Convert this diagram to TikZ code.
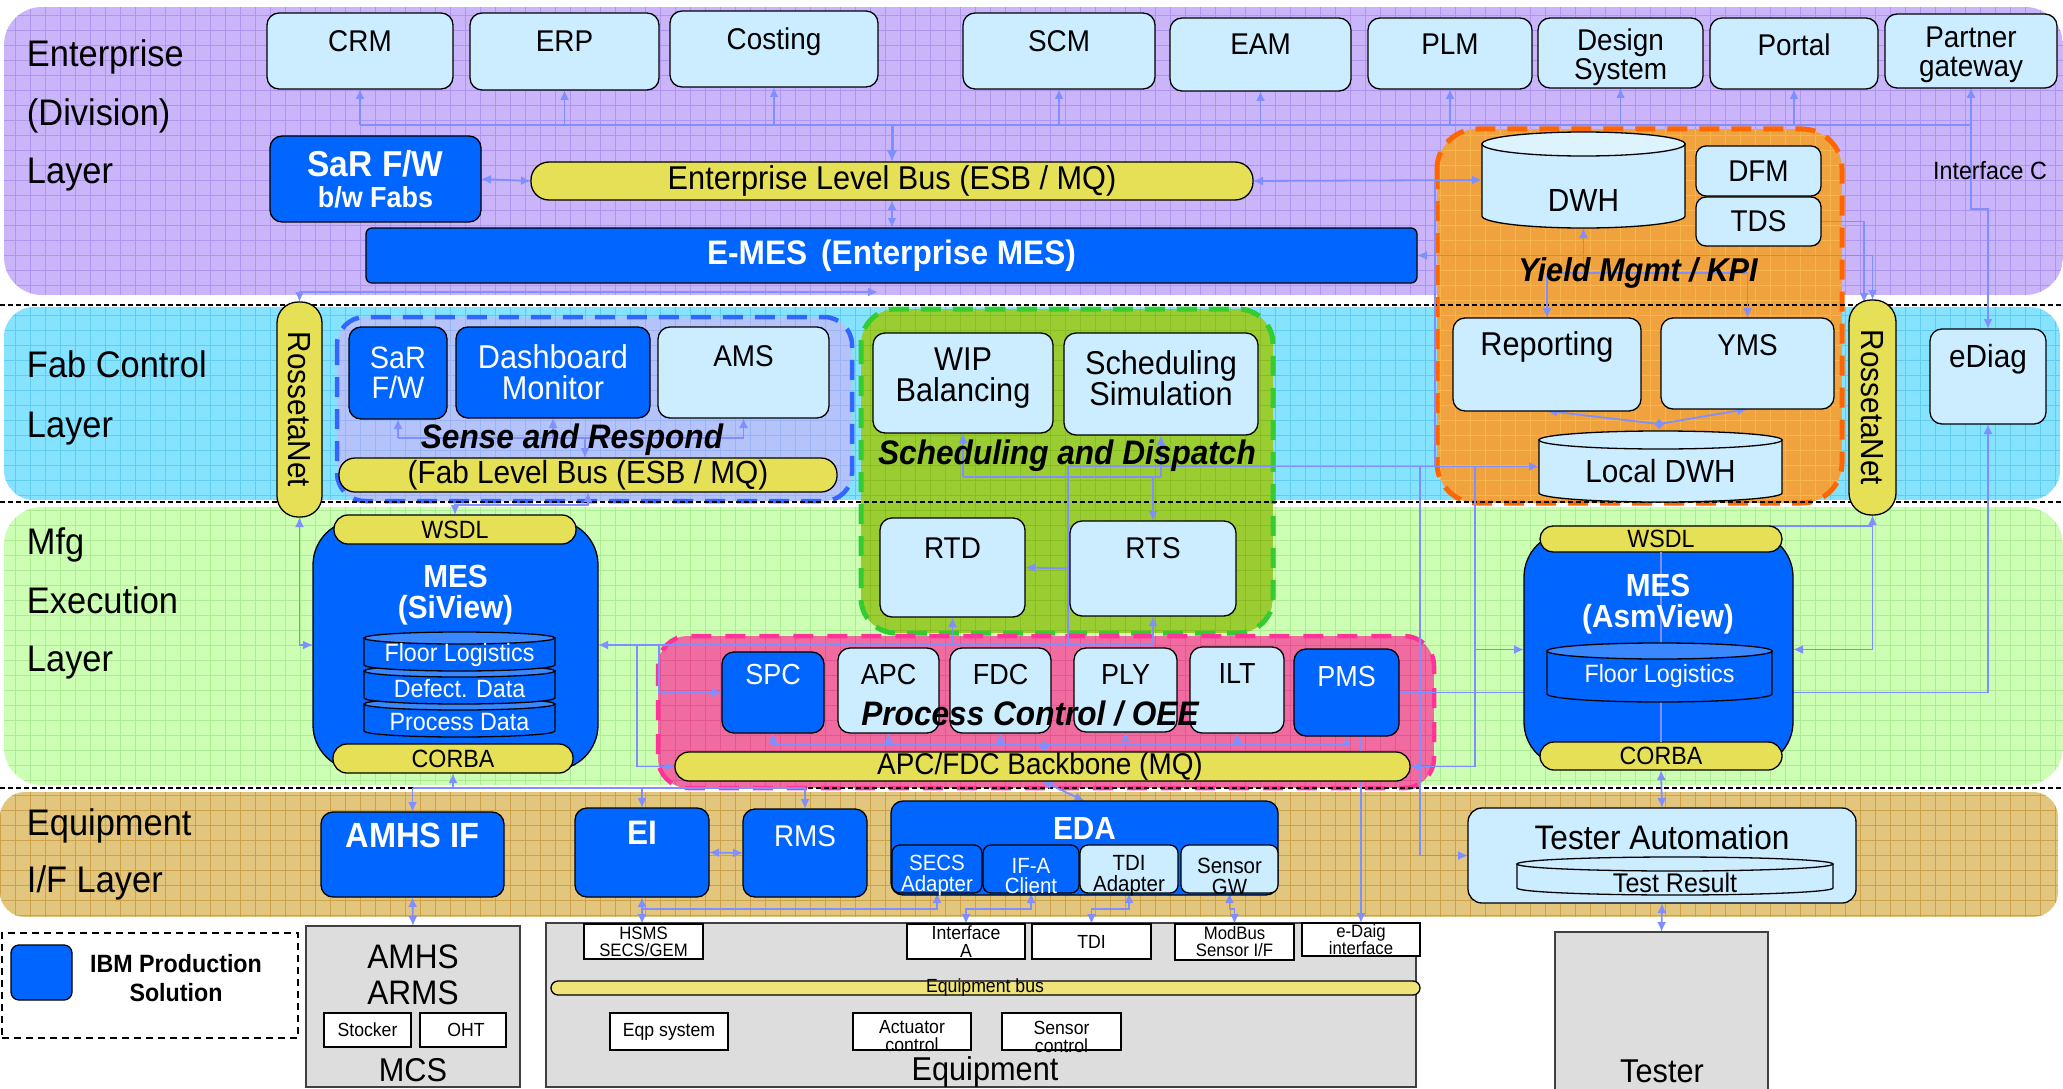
\documentclass[tikz,border=0pt]{standalone}
\usepackage{fontspec}
\setmainfont{Liberation Sans}[FakeStretch=0.93]
\usetikzlibrary{arrows.meta,shapes.geometric}
\definecolor{entC}{HTML}{CAB5FA}\definecolor{entG}{HTML}{AE95F2}
\definecolor{fabC}{HTML}{85E3FF}\definecolor{fabG}{HTML}{62CBF0}
\definecolor{mfgC}{HTML}{CCFFB3}\definecolor{mfgG}{HTML}{ADEB94}
\definecolor{eqC}{HTML}{E2C67E}\definecolor{eqG}{HTML}{CDA24A}
\definecolor{yldC}{HTML}{EFA23E}\definecolor{yldG}{HTML}{F7B54A}\definecolor{yldB}{HTML}{FF6600}
\definecolor{snsC}{HTML}{B4C3FA}\definecolor{snsG}{HTML}{9AB4F5}\definecolor{snsB}{HTML}{3366FF}
\definecolor{schC}{HTML}{9ACD32}\definecolor{schG}{HTML}{88BE22}\definecolor{schB}{HTML}{33CC33}
\definecolor{pcC}{HTML}{F06CA0}\definecolor{pcG}{HTML}{E4568F}\definecolor{pcB}{HTML}{FF3399}
\definecolor{lbC}{HTML}{CCECFF}\definecolor{lbtopC}{HTML}{DDF4FF}
\definecolor{ibmC}{HTML}{0066FF}\definecolor{ibmTopC}{HTML}{3A88FF}
\definecolor{busC}{HTML}{E5E055}\definecolor{ebusC}{HTML}{F0E37A}
\definecolor{connC}{HTML}{7F8FFF}\definecolor{grnC}{HTML}{336611}
\definecolor{greyC}{HTML}{DDDDDD}
\pgfdeclarelayer{bg}\pgfdeclarelayer{cn}\pgfsetlayers{bg,cn,main}
\newcommand\fs[1]{\pgfmathsetmacro\fsk{#1*0.95}\fontsize{#1}{\fsk}\selectfont}
\newcommand\BX[7]{\node[#1, minimum width={#5-#3}, minimum height={#6-#4}] (#2) at ({(#3+#5)/2},{(#4+#6)/2}) {#7};}
\newcommand\CYL[8]{%
 \pgfmathsetmacro\cylcx{(#2+#4)/2}%
 \pgfmathsetmacro\cylrx{(#4-#2)/2}%
 \pgfmathsetmacro\cylyt{#3+#6}%
 \pgfmathsetmacro\cylyb{#5-#6}%
 \draw[line width=1.3pt, fill=#7] (#2,\cylyt) -- (#2,\cylyb) arc[start angle=180, end angle=360, x radius=\cylrx pt, y radius=#6pt] -- (#4,\cylyt) -- cycle;
 \draw[line width=1.3pt, fill=#8] (\cylcx,\cylyt) ellipse[x radius=\cylrx pt, y radius=#6pt];
 \node[minimum width={#4-#2}, minimum height={#5-#3}] (#1) at ({(#2+#4)/2},{(#3+#5)/2}) {};}
\newcommand\GRIDBOX[7]{%
 \begin{scope}
 \clip[rounded corners=#3] (#4,#5) rectangle (#6,#7);
 \fill[#1] (#4,#5) rectangle (#6,#7);
 \foreach \gx in {0,15,...,2070} {\draw[#2, line width=0.8pt] (\gx,#5) -- (\gx,#7);}
 \foreach \gy in {0,15,...,1095} {\draw[#2, line width=0.8pt] (#4,\gy) -- (#6,\gy);}
 \end{scope}}
\begin{document}
\begin{tikzpicture}[x=1pt,y=-1pt,
  every node/.style={inner sep=0pt, outer sep=0pt},
  lbox/.style={draw=black, line width=1.3pt, fill=lbC, rounded corners=12pt},
  dbox/.style={draw=black, line width=1.3pt, fill=ibmC, rounded corners=12pt},
  pill/.style={draw=black, line width=1.3pt, fill=busC},
  wbox/.style={draw=black, line width=1.2pt, fill=white},
  gbox/.style={draw=black!75, line width=1.3pt, fill=greyC},
  tx/.style={align=center, text=black},
  txw/.style={align=center, text=white},
  cline/.style={draw=connC, line width=1.8pt},
  arw/.style={cline, -{Latex[length=10pt,width=9pt]}},
  barr/.style={cline, {Latex[length=10pt,width=9pt]}-{Latex[length=10pt,width=9pt]}},
  gline/.style={draw=grnC, line width=1.6pt},
  garr/.style={gline, -{Latex[length=9pt,width=8pt]}},
  bi/.style={font={\fs{#1}\bfseries\itshape}}
]
\useasboundingbox (0,0) rectangle (2063,1089);
\begin{pgfonlayer}{bg}
\fill[white] (0,0) rectangle (2063,1089);
\GRIDBOX{entC}{entG}{38pt}{4}{7}{2063}{295}
\GRIDBOX{fabC}{fabG}{30pt}{4}{307}{2060}{500}
\GRIDBOX{mfgC}{mfgG}{38pt}{4}{507}{2063}{785}
\GRIDBOX{eqC}{eqG}{25pt}{0}{792}{2058}{917}
\GRIDBOX{yldC}{yldG}{40pt}{1437}{129}{1842}{503}
\GRIDBOX{snsC}{snsG}{28pt}{337}{317}{852}{501}
\GRIDBOX{schC}{schG}{35pt}{861}{309}{1273}{633}
\GRIDBOX{pcC}{pcG}{30pt}{658}{636}{1434}{788}
\draw[yldB, line width=5pt, dash pattern=on 20pt off 12pt, rounded corners=40pt] (1437,129) rectangle (1842,503);
\draw[snsB, line width=4.5pt, dash pattern=on 20pt off 12pt, rounded corners=28pt] (337,317) rectangle (852,501);
\draw[schB, line width=5pt, dash pattern=on 20pt off 12pt, rounded corners=35pt] (861,309) rectangle (1273,633);
\draw[pcB, line width=4.5pt, dash pattern=on 20pt off 14pt, rounded corners=30pt] (658,636) rectangle (1434,788);
\foreach \sy in {305,502,788} {\draw[black, line width=1.4pt, dash pattern=on 5pt off 3pt] (0,\sy) -- (2063,\sy);}
\end{pgfonlayer}

% ---------- Enterprise layer
\node[tx, anchor=base west, font=\fs{37}] (lEnt1) at (27,67) {Enterprise};
\node[tx, anchor=base west, font=\fs{37}] (lEnt2) at (27,125) {(Division)};
\node[tx, anchor=base west, font=\fs{37}] (lEnt3) at (27,183) {Layer};
\BX{lbox}{crm}{267}{13}{453}{89}{}
\node[tx, font=\fs{30}] (crm-t) at ([yshift=-28pt]crm.north) {CRM};
\BX{lbox}{erp}{470}{13}{659}{90}{}
\node[tx, font=\fs{30}] (erp-t) at ([yshift=-28pt]erp.north) {ERP};
\BX{lbox}{cost}{670}{11}{878}{87}{}
\node[tx, font=\fs{30}] (cost-t) at ([yshift=-31pt]cost.north) {Costing};
\BX{lbox}{scm}{963}{13}{1155}{89}{}
\node[tx, font=\fs{30}] (scm-t) at ([yshift=-28pt]scm.north) {SCM};
\BX{lbox}{eam}{1170}{18}{1351}{91}{}
\node[tx, font=\fs{30}] (eam-t) at ([yshift=-26pt]eam.north) {EAM};
\BX{lbox}{plm}{1368}{18}{1532}{89}{}
\node[tx, font=\fs{30}] (plm-t) at ([yshift=-26pt]plm.north) {PLM};
\BX{lbox}{dsys}{1538}{18}{1703}{88}{}
\node[tx, font=\fs{30}] (dsys-t) at ([yshift=-39pt]dsys.north) {Design\\System};
\BX{lbox}{portal}{1710}{18}{1878}{89}{}
\node[tx, font=\fs{30}] (portal-t) at ([yshift=-27pt]portal.north) {Portal};
\BX{lbox}{pgw}{1885}{14}{2057}{88}{}
\node[tx, font=\fs{30}] (pgw-t) at ([yshift=-41pt]pgw.north) {Partner\\gateway};
\BX{dbox}{sarfab}{270}{136}{481}{222}{}
\node[txw, font={\fs{36}\bfseries}] (sarfab-t) at (sarfab) {SaR F/W\\[-3pt]{\fs{29}b/w Fabs}};
\BX{pill, rounded corners=18pt}{elb}{531}{162}{1253}{200}{}
\node[tx, font=\fs{33}] (elb-t) at (elb) {Enterprise Level Bus (ESB / MQ)};
\BX{dbox, rounded corners=6pt}{emes}{366}{228}{1417}{283}{}
\node[txw, font={\fs{34}\bfseries}] (emes-t) at (emes) {E-MES\hspace{14pt}(Enterprise MES)};
\CYL{dwh}{1482}{132}{1685}{228}{12}{lbC}{lbtopC}
\node[tx, font=\fs{32}] (dwh-t) at ([yshift=-20pt]dwh.center) {DWH};
\BX{lbox, rounded corners=10pt}{dfm}{1696}{146}{1821}{196}{}
\node[tx, font=\fs{30}] (dfm-t) at (dfm) {DFM};
\BX{lbox, rounded corners=10pt}{tds}{1696}{197}{1821}{246}{}
\node[tx, font=\fs{30}] (tds-t) at (tds) {TDS};
\node[tx, bi=33] (yld-t) at (1638,273) {Yield Mgmt / KPI};
\node[tx, font=\fs{25}] (ifc) at (1990,171) {Interface C};

% ---------- Fab control layer
\node[tx, anchor=base west, font=\fs{37}] (lFab1) at (27,377) {Fab Control};
\node[tx, anchor=base west, font=\fs{37}] (lFab2) at (27,437) {Layer};
\BX{pill, rounded corners=21pt}{ros1}{277}{302}{322}{517}{}
\node[tx, rotate=-90, font=\fs{32}] (ros1-t) at (ros1) {RossetaNet};
\BX{pill, rounded corners=22pt}{ros2}{1849}{300}{1896}{515}{}
\node[tx, rotate=-90, font=\fs{32}] (ros2-t) at (ros2) {RossetaNet};
\BX{dbox}{sarfw}{349}{327}{447}{419}{}
\node[txw, font=\fs{31}] (sarfw-t) at (sarfw) {SaR\\F/W};
\BX{dbox}{dash}{456}{327}{650}{418}{}
\node[txw, font=\fs{33}] (dash-t) at (dash) {Dashboard\\Monitor};
\BX{lbox}{ams}{658}{327}{829}{418}{}
\node[tx, font=\fs{30}] (ams-t) at ([yshift=-29pt]ams.north) {AMS};
\node[tx, bi=34] (sns-t) at (572,440) {Sense and Respond};
\BX{pill, rounded corners=16pt}{fbus}{339}{458}{837}{492}{}
\node[tx, font=\fs{32}] (fbus-t) at (fbus) {(Fab Level Bus (ESB / MQ)};
\BX{lbox}{wip}{873}{333}{1053}{433}{}
\node[tx, font=\fs{33}] (wip-t) at ([yshift=-45pt]wip.north) {WIP\\Balancing};
\BX{lbox}{ssim}{1064}{333}{1258}{435}{}
\node[tx, font=\fs{33}] (ssim-t) at ([yshift=-45pt]ssim.north) {Scheduling\\Simulation};
\node[tx, bi=34] (sch-t) at (1067,456) {Scheduling and Dispatch};
\BX{lbox}{rtd}{880}{518}{1025}{617}{}
\node[tx, font=\fs{30}] (rtd-t) at ([yshift=-30pt]rtd.north) {RTD};
\BX{lbox}{rts}{1070}{521}{1236}{616}{}
\node[tx, font=\fs{30}] (rts-t) at ([yshift=-27pt]rts.north) {RTS};
\BX{lbox}{rep}{1453}{318}{1641}{411}{}
\node[tx, font=\fs{33}] (rep-t) at ([yshift=-29pt]rep.north) {Reporting};
\BX{lbox}{yms}{1661}{318}{1834}{409}{}
\node[tx, font=\fs{30}] (yms-t) at ([yshift=-27pt]yms.north) {YMS};
\CYL{ldwh}{1539}{431}{1782}{502}{9}{lbC}{lbC}
\node[tx, font=\fs{32}] (ldwh-t) at ([yshift=-5pt]ldwh.center) {Local DWH};
\BX{lbox}{ediag}{1930}{329}{2046}{424}{}
\node[tx, font=\fs{32}] (ediag-t) at ([yshift=-30pt]ediag.north) {eDiag};

% ---------- Mfg execution layer
\node[tx, anchor=base west, font=\fs{37}] (lMfg1) at (27,554) {Mfg};
\node[tx, anchor=base west, font=\fs{37}] (lMfg2) at (27,613) {Execution};
\node[tx, anchor=base west, font=\fs{37}] (lMfg3) at (27,671) {Layer};
\BX{dbox, rounded corners=45pt}{mes1}{313}{520}{598}{770}{}
\BX{pill, rounded corners=14pt}{ws1}{334}{515}{576}{544}{}
\node[tx, font=\fs{25}] (ws1-t) at (ws1) {WSDL};
\BX{pill, rounded corners=14pt}{cb1}{333}{744}{573}{773}{}
\node[tx, font=\fs{25}] (cb1-t) at (cb1) {CORBA};
\node[txw, font={\fs{32}\bfseries}] (mes1-t) at (455.5,595) {MES\\(SiView)};
\CYL{pd1}{364}{698}{555}{737}{6}{ibmC}{ibmTopC}
\CYL{dd1}{364}{665}{555}{704}{6}{ibmC}{ibmTopC}
\CYL{fl1}{364}{632}{555}{671}{6}{ibmC}{ibmTopC}
\node[txw, font=\fs{25}] (fl1-t) at (459.5,655) {Floor Logistics};
\node[txw, font=\fs{25}] (dd1-t) at (459.5,689) {Defect. Data};
\node[txw, font=\fs{25}] (pd1-t) at (459.5,722) {Process Data};
\BX{dbox}{spc}{722}{652}{824}{733}{}
\node[txw, font=\fs{29}] (spc-t) at ([yshift=-23pt]spc.north) {SPC};
\BX{lbox}{apc}{838}{648}{939}{733}{}
\node[tx, font=\fs{29}] (apc-t) at ([yshift=-27pt]apc.north) {APC};
\BX{lbox}{fdc}{950}{648}{1051}{733}{}
\node[tx, font=\fs{29}] (fdc-t) at ([yshift=-27pt]fdc.north) {FDC};
\BX{lbox}{ply}{1074}{648}{1177}{732}{}
\node[tx, font=\fs{29}] (ply-t) at ([yshift=-27pt]ply.north) {PLY};
\BX{lbox}{ilt}{1190}{647}{1284}{733}{}
\node[tx, font=\fs{29}] (ilt-t) at ([yshift=-27pt]ilt.north) {ILT};
\BX{dbox}{pms}{1294}{649}{1399}{736}{}
\node[txw, font=\fs{29}] (pms-t) at ([yshift=-28pt]pms.north) {PMS};
\node[tx, bi=34] (pc-t) at (1030,714) {Process Control / OEE};
\BX{pill, rounded corners=14pt}{bb}{675}{752}{1410}{781}{}
\node[tx, font=\fs{30}] (bb-t) at (1040,766.5) {APC/FDC Backbone (MQ)};
\BX{dbox, rounded corners=45pt}{mes2}{1524}{532}{1793}{767}{}
\BX{pill, rounded corners=13pt}{ws2}{1540}{526}{1782}{552}{}
\node[tx, font=\fs{25}] (ws2-t) at (ws2) {WSDL};
\BX{pill, rounded corners=14pt}{cb2}{1540}{742}{1782}{770}{}
\node[tx, font=\fs{25}] (cb2-t) at (cb2) {CORBA};
\draw[cline, line width=1.2pt] (ws2.south) -- (cb2.north);
\node[txw, font={\fs{32}\bfseries}] (mes2-t) at (1658,604) {MES\\(AsmView)};
\CYL{fl2}{1547}{643}{1772}{702}{8}{ibmC}{ibmTopC}
\node[txw, font=\fs{25}] (fl2-t) at (1659.5,676) {Floor Logistics};

% ---------- Equipment I/F layer
\node[tx, anchor=base west, font=\fs{37}] (lEq1) at (27,835) {Equipment};
\node[tx, anchor=base west, font=\fs{37}] (lEq2) at (27,892) {I/F Layer};
\BX{dbox}{amhsif}{321}{812}{504}{897}{}
\node[txw, font={\fs{35}\bfseries}] (amhsif-t) at ([yshift=-23pt]amhsif.north) {AMHS IF};
\BX{dbox}{ei}{575}{808}{709}{897}{}
\node[txw, font={\fs{34}\bfseries}] (ei-t) at ([yshift=-25pt]ei.north) {EI};
\BX{dbox}{rms}{743}{809}{867}{897}{}
\node[txw, font=\fs{30}] (rms-t) at ([yshift=-27pt]rms.north) {RMS};
\BX{dbox}{eda}{891}{801}{1278}{895}{}
\node[txw, font={\fs{32}\bfseries}] (eda-t) at ([yshift=-27pt]eda.north) {EDA};
\BX{dbox, rounded corners=8pt}{secs}{892}{845}{982}{893}{}
\node[txw, font=\fs{22}] (secs-t) at (937,876) {SECS\\Adapter};
\BX{dbox, rounded corners=8pt}{ifa}{983}{845}{1079}{893}{}
\node[txw, font=\fs{22}] (ifa-t) at (1031,876) {IF-A\\Client};
\BX{lbox, rounded corners=8pt}{tdia}{1080}{845}{1178}{893}{}
\node[tx, font=\fs{22}] (tdia-t) at (1129,876) {TDI\\Adapter};
\BX{lbox, rounded corners=8pt}{sgw}{1181}{845}{1278}{893}{}
\node[tx, font=\fs{22}] (sgw-t) at (1229.5,876) {Sensor\\GW};
\BX{lbox, rounded corners=14pt}{testa}{1468}{808}{1856}{903}{}
\node[tx, font=\fs{34}] (testa-t) at ([yshift=-29pt]testa.north) {Tester Automation};
\CYL{tr}{1517}{857}{1833}{895}{7}{lbC}{lbC}
\node[tx, font=\fs{27}] (tr-t) at (1675,883) {Test Result};

% ---------- bottom
\BX{draw=black, line width=1.5pt, dash pattern=on 7pt off 5pt}{legend}{2}{933}{298}{1038}{}
\BX{dbox, rounded corners=8pt}{legsq}{11}{945}{72}{1000}{}
\node[tx, font={\fs{25}\bfseries}] (leg-t) at (176,978) {IBM Production\\[5pt]Solution};
\BX{gbox}{amhs}{306}{926}{520}{1087}{}
\node[tx, font=\fs{34}] (amhs-t1) at (413,957) {AMHS};
\node[tx, font=\fs{34}] (amhs-t2) at (413,993) {ARMS};
\node[tx, font=\fs{33}] (amhs-t3) at (413,1070) {MCS};
\BX{wbox}{stk}{324}{1013}{411}{1047}{}
\node[tx, font=\fs{19}] (stk-t) at (stk) {Stocker};
\BX{wbox}{oht}{420}{1013}{506}{1047}{}
\node[tx, font=\fs{19}] (oht-t) at ([xshift=3pt]oht.center) {OHT};
\BX{gbox}{equip}{546}{923}{1416}{1087}{}
\node[tx, font=\fs{33}] (equip-t) at (985,1072) {Equipment};
\BX{wbox}{hsms}{584}{924}{703}{959}{}
\node[tx, font=\fs{18}] (hsms-t) at (hsms) {HSMS\\SECS/GEM};
\BX{wbox}{intA}{907}{924}{1025}{959}{}
\node[tx, font=\fs{19}] (intA-t) at (intA) {Interface\\A};
\BX{wbox}{tdi}{1032}{924}{1151}{959}{}
\node[tx, font=\fs{19}] (tdi-t) at (tdi) {TDI};
\BX{wbox}{modbus}{1175}{924}{1294}{960}{}
\node[tx, font=\fs{18}] (modbus-t) at (modbus) {ModBus\\Sensor I/F};
\BX{wbox}{edaig}{1302}{923}{1420}{956}{}
\node[tx, font=\fs{18}] (edaig-t) at (edaig) {e-Daig\\interface};
\BX{pill, fill=ebusC, rounded corners=7pt}{ebus}{551}{981}{1420}{995}{}
\node[tx, font=\fs{19}] (ebus-t) at (985,988) {Equipment bus};
\BX{wbox}{eqp}{610}{1013}{728}{1050}{}
\node[tx, font=\fs{19}] (eqp-t) at (eqp) {Eqp system};
\BX{wbox}{act}{853}{1013}{971}{1050}{}
\node[tx, font=\fs{19}] (act-t) at ([yshift=-5pt]act.center) {Actuator\\control};
\BX{wbox}{sen}{1002}{1013}{1121}{1050}{}
\node[tx, font=\fs{19}] (sen-t) at ([yshift=-5pt]sen.center) {Sensor\\control};
\BX{gbox}{tester}{1555}{932}{1768}{1100}{}
\node[tx, font=\fs{33}] (tester-t) at (1662,1071) {Tester};

% ---------- connectors
\begin{pgfonlayer}{cn}
\coordinate (yTop) at (0,125);
\draw[cline] (crm.south |- yTop) -- (pgw.south |- yTop);
\foreach \n in {crm,erp,cost,scm,eam,plm,dsys,portal,pgw} {\draw[arw] (\n.south |- yTop) -- (\n.south);}
\draw[cline, line width=3pt, -{Latex[length=12pt,width=11pt]}] (elb.north |- yTop) -- (elb.north);
\draw[barr] (elb.south) -- (elb.south |- emes.north);
\draw[barr] (sarfab.east) -- (elb.west);
\draw[barr] (elb.east) -- (dwh.west);
\draw[cline] (1435,180) -- (1435,467);
\draw[barr] (ros1.north) |- (878,292);
\draw[barr] (emes.east) -| (ros2.north);
\draw[arw] (tds.east) -| (1864,303);
\coordinate (yY) at (0,273);
\draw[cline] (rep.north |- yY) -- (yms.north |- yY);
\draw[arw] (dwh.south |- yY) -- (dwh.south);
\draw[arw] (rep.north |- yY) -- (rep.north);
\draw[arw] (yms.north |- yY) -- (yms.north);
\node[diamond, fill=connC, minimum size=10pt] (hub2) at (1659,424) {};
\draw[arw] (hub2) -- (rep.south);
\draw[arw] (hub2) -- (yms.south);
\draw[barr] (pgw.south) |- (1988,209) -- (ediag.north);
\coordinate (ySR) at (0,438);
\draw[cline] (sarfw.south |- ySR) -- (ams.south |- ySR);
\foreach \n in {sarfw,dash,ams} {\draw[arw] (\n.south |- ySR) -- (\n.south);}
\draw[arw] (585,438) -- (585,458);
\draw[barr] (588,492) |- (455,505) -- (ws1.north);
\coordinate (ySD) at (0,477);
\draw[cline] (wip.south |- ySD) -- (ssim.south |- ySD);
\draw[arw] (wip.south |- ySD) -- (wip.south);
\draw[arw] (ssim.south |- ySD) -- (ssim.south);
\draw[arw] (rts.north |- ySD) -- (rts.north);
\draw[arw] (rts.west) -- (rtd.east);
\draw[barr] (ros1.south) |- (mes1.west);
\coordinate (yM) at (0,645);
\draw[arw] (rts.south |- yM) -- (mes1.east);
\draw[arw] (rtd.south |- yM) -- (rtd.south);
\draw[arw] (rts.south |- yM) -- (rts.south);
\draw[arw] (637,645) |- (bb.west);
\draw[arw] (659,645) |- (spc.west);
\draw[arw] (1068,645) |- (ldwh.west);
\draw[arw] (1420,467) |- (testa.west);
\draw[arw] (1475,467) |- (bb.east);
\draw[arw] (1475,649.5) -- (mes2.west);
\coordinate (yPC) at (0,745);
\draw[cline] (spc.south |- yPC) -- (pms.south |- yPC);
\foreach \n in {spc,apc,fdc,ply,ilt,pms} {\draw[arw] (\n.south |- yPC) -- (\n.south);}
\node[diamond, fill=connC, minimum size=10pt] (hub1) at (1044,746) {};
\draw[barr] (bb.south) -- (eda.north);
\draw[arw] (pms.south -| edaig.north) -- (edaig.north);
\draw[arw] (pms.east) -| (ediag.south);
\draw[arw] (ros2.south) |- (mes2.east);
\draw[arw] ([xshift=-12pt]ws2.north east) -| (ros2.south);
\coordinate (yE) at (0,788);
\draw[arw] (cb1.south |- yE) -- (cb1.south);
\draw[cline] (amhsif.north |- yE) -- (rms.north |- yE);
\foreach \n in {amhsif,ei,rms} {\draw[arw] (\n.north |- yE) -- (\n.north);}
\draw[barr] (amhsif.south) -- (amhs.north);
\draw[barr] (ei.east) -- (rms.west);
\draw[barr] (ei.south) -- (ei.south |- hsms.north);
\coordinate (yA) at (0,909);
\draw[arw] (ei.south |- yA) -| (secs.south);
\draw[barr] (ifa.south) |- (intA.north |- yA) -- (intA.north);
\draw[barr] (tdia.south) |- (tdi.north |- yA) -- (tdi.north);
\draw[barr] (sgw.south) |- (modbus.north |- yA) -- (modbus.north);
\draw[barr] (cb2.south) -- (testa.north);
\draw[barr] (testa.south) -- (tester.north);
\coordinate (yG) at (0,970);
\draw[gline] (hsms.south |- yG) -- (modbus.south |- yG);
\foreach \n in {hsms,intA,tdi,modbus} {\draw[garr] (\n.south |- yG) -- (\n.south);}
\draw[garr] (ebus.north |- yG) -- (ebus.north);
\node[diamond, fill=grnC, minimum size=9pt] (hub3) at (985,1002) {};
\draw[garr] (hub3) -- (672,1006);
\draw[garr] (hub3) -- (915,1007);
\draw[garr] (hub3) -- (1057,1007);
\end{pgfonlayer}
\end{tikzpicture}
\end{document}
